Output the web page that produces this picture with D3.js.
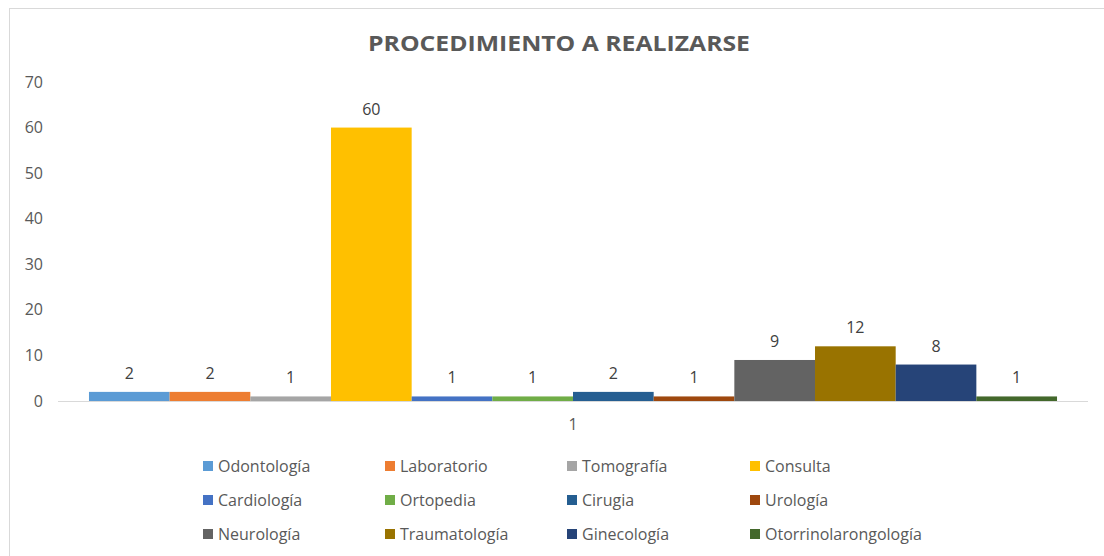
<!DOCTYPE html>
<html>
<head>
<meta charset="utf-8">
<script src="https://cdn.jsdelivr.net/npm/d3@7"></script>
<style>
  body { margin: 0; background: #fff; }
  svg { display: block; font-family: "Open Sans", "DejaVu Sans", sans-serif; }
</style>
</head>
<body>
<div id="c_plot"></div>
<script>
var categories = ["1"];
var series = ["Odontología", "Laboratorio", "Tomografía", "Consulta",
  "Cardiología", "Ortopedia", "Cirugia", "Urología",
  "Neurología", "Traumatología", "Ginecología", "Otorrinolarongología"];
var values = [2, 2, 1, 60, 1, 1, 2, 1, 9, 12, 8, 1];
var colors = ["#5B9BD5", "#ED7D31", "#A5A5A5", "#FFC000", "#4472C4", "#70AD47",
  "#255E91", "#9E480E", "#636363", "#997300", "#264478", "#43682B"];
var yTicks = [0, 10, 20, 30, 40, 50, 60, 70];

var width = 1104, height = 556;
var margin = { top: 82, right: 16, bottom: 155, left: 58 };

var svg = d3.select("#c_plot").append("svg")
  .attr("width", width)
  .attr("height", height);

// chart frame
svg.append("rect")
  .attr("x", 9.5).attr("y", 8.5)
  .attr("width", width + 10).attr("height", height + 10)
  .attr("fill", "#fff").attr("stroke", "#d9d9d9");

svg.append("text")
  .attr("x", 559).attr("y", 51)
  .attr("text-anchor", "middle")
  .attr("fill", "#595959")
  .style("font-size", "21px")
  .style("font-weight", "bold")
  .attr("textLength", 382)
  .attr("lengthAdjust", "spacingAndGlyphs")
  .text("PROCEDIMIENTO A REALIZARSE");

var y = d3.scaleLinear().domain([0, 70]).range([height - margin.bottom, margin.top]);
var x0 = d3.scaleBand().domain(categories)
  .range([margin.left, width - margin.right]).paddingInner(0).paddingOuter(0.032);
var x1 = d3.scaleBand().domain(series).range([0, x0.bandwidth()]);

var g = svg.append("g");

// y labels
g.selectAll(".ytick").data(yTicks).enter().append("text")
  .attr("x", 43).attr("y", d => y(d))
  .attr("dy", "0.35em")
  .attr("text-anchor", "end")
  .attr("fill", "#595959")
  .style("font-size", "16px")
  .text(d => d);

var bars = series.map((s, i) => ({ name: s, value: values[i], color: colors[i], cat: categories[0] }));

g.selectAll(".bar").data(bars).enter().append("rect")
  .attr("x", d => x0(d.cat) + x1(d.name))
  .attr("y", d => y(d.value))
  .attr("width", x1.bandwidth())
  .attr("height", d => y(0) - y(d.value))
  .attr("fill", d => d.color);

// baseline
g.append("line")
  .attr("x1", margin.left).attr("x2", width - margin.right)
  .attr("y1", y(0) + 0.5).attr("y2", y(0) + 0.5)
  .attr("stroke", "#d9d9d9");

g.selectAll(".lbl").data(bars).enter().append("text")
  .attr("x", d => x0(d.cat) + x1(d.name) + x1.bandwidth() / 2)
  .attr("y", d => y(d.value) - 13)
  .attr("text-anchor", "middle")
  .attr("fill", "#404040")
  .style("font-size", "16px")
  .text(d => d.value);

// category label
g.append("text")
  .attr("x", x0(categories[0]) + x0.bandwidth() / 2)
  .attr("y", y(0) + 29)
  .attr("text-anchor", "middle")
  .attr("fill", "#595959")
  .style("font-size", "16px")
  .text(categories[0]);

// legend
var legX = [203, 385, 567, 750];
var legY = [466, 500, 534];
var leg = svg.selectAll(".leg").data(bars).enter().append("g")
  .attr("transform", (d, i) => "translate(" + legX[i % 4] + "," + legY[Math.floor(i / 4)] + ")");
leg.append("rect")
  .attr("x", 0).attr("y", -5)
  .attr("width", 10).attr("height", 10)
  .attr("fill", d => d.color);
leg.append("text")
  .attr("x", 15).attr("dy", "0.35em")
  .attr("fill", "#595959")
  .style("font-size", "16px")
  .text(d => d.name);
</script>
</body>
</html>
